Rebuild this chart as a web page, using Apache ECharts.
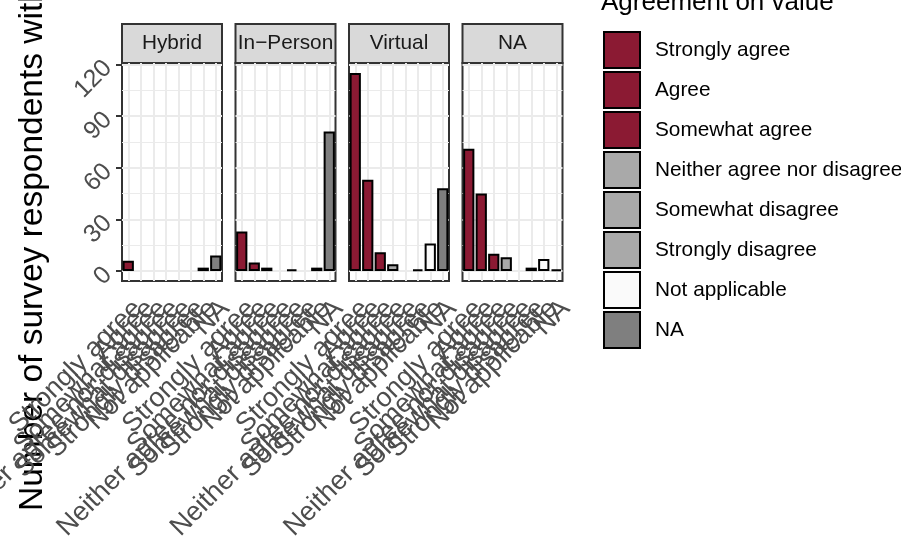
<!DOCTYPE html>
<html><head><meta charset="utf-8">
<script src="https://cdn.jsdelivr.net/npm/echarts@6/dist/echarts.min.js"></script>
<style>html,body{margin:0;padding:0;background:#fff}#c{width:901px;height:539px}</style>
</head><body><div id="c"></div>
<script>
// ---- data ----
const panels = ['Hybrid', 'In\u2212Person', 'Virtual', 'NA'];
const levels = ['Strongly agree', 'Agree', 'Somewhat agree', 'Neither agree nor disagree',
  'Somewhat disagree', 'Strongly disagree', 'Not applicable', 'NA'];
const hybrid   = [6, 0, 0, 0, 0, 0, 2, 9];
const inPerson = [23, 5, 2, 0, 1, 0, 2, 81];
const virtual  = [115, 53, 11, 4, 0, 1, 16, 48];
const naGroup  = [71, 45, 10, 8, 0, 2, 7, 1];
const yTicks = [0, 30, 60, 90, 120];
const yMinor = [15, 45, 75, 105];
const levelColors = ['#8b1a33', '#8b1a33', '#8b1a33', '#a9a9a9', '#a9a9a9', '#a9a9a9', '#fafafa', '#7f7f7f'];
const yTitle = 'Number of survey respondents with';
const legendTitle = 'Agreement on value';

const panelValues = [hybrid, inPerson, virtual, naGroup];
const FONT = '"Liberation Sans", Arial, sans-serif';
const L = [122, 235.5, 349, 462.5], W = 100, TOP = 63, H = 218, STRIP_TOP = 24;
const yMin = -5.75, yMax = 120.75;

const chart = echarts.init(document.getElementById('c'), null, {renderer: 'canvas'});
const grids = [], xAxes = [], yAxes = [], series = [], graphics = [];
panels.forEach((p, i) => {
  grids.push({left: L[i], top: TOP, width: W, height: H, show: true, borderColor: '#333333', borderWidth: 2,
    backgroundColor: 'transparent', containLabel: false, outerBoundsMode: 'none'});
  xAxes.push({type: 'category', gridIndex: i, data: levels, boundaryGap: true,
    axisLine: {show: false},
    axisTick: {show: true, alignWithLabel: true, length: 6, lineStyle: {color: '#333333', width: 2}},
    axisLabel: {show: true, interval: 0, rotate: 45, fontSize: 27, color: '#4d4d4d', fontFamily: FONT, margin: 14,
      align: 'right', verticalAlign: 'top', hideOverlap: false},
    splitLine: {show: false}});
  yAxes.push({type: 'value', gridIndex: i, min: yMin, max: yMax,
    axisLine: {show: false},
    axisTick: {show: i === 0, length: 6, customValues: yTicks, lineStyle: {color: '#333333', width: 2}},
    axisLabel: {show: i === 0, customValues: yTicks, rotate: 45, fontSize: 25, color: '#4d4d4d', fontFamily: FONT, margin: 14},
    splitLine: {show: false}});
  series.push({type: 'line', name: '_grid' + i, xAxisIndex: i, yAxisIndex: i, data: [], silent: true,
    markLine: {silent: true, symbol: ['none', 'none'], label: {show: false}, animation: false, z: 1,
      lineStyle: {color: '#ebebeb', type: 'solid'},
      data: [
        ...yMinor.map(v => ({yAxis: v, lineStyle: {width: 1, color: '#ebebeb', type: 'solid'}})),
        ...yTicks.map(v => ({yAxis: v, lineStyle: {width: 2, color: '#ebebeb', type: 'solid'}})),
        ...levels.map(c => ({xAxis: c, lineStyle: {width: 2, color: '#ebebeb', type: 'solid'}}))
      ]}});
  levels.forEach((lv, k) => {
    const data = levels.map((_, j) => (j === k && panelValues[i][j] > 0) ? panelValues[i][j] : '-');
    series.push({type: 'bar', name: lv, xAxisIndex: i, yAxisIndex: i, stack: 's' + i, barWidth: '90%', data,
      itemStyle: {color: levelColors[k], borderColor: '#000000', borderWidth: 2},
      emphasis: {disabled: true}, z: 3});
  });
  graphics.push({type: 'rect', shape: {x: L[i], y: STRIP_TOP, width: W, height: TOP - STRIP_TOP},
    style: {fill: '#d9d9d9', stroke: '#333333', lineWidth: 2}});
  graphics.push({type: 'text', x: L[i] + W / 2, y: (STRIP_TOP + TOP) / 2,
    style: {text: p, fill: '#1a1a1a', font: '20.8px ' + FONT, align: 'center', verticalAlign: 'middle', textAlign: 'center', textVerticalAlign: 'middle'}});
});
graphics.push({type: 'text', x: 33, y: 511, rotation: Math.PI / 2,
  style: {text: yTitle, fill: '#000000', font: '33.5px ' + FONT, align: 'left', verticalAlign: 'middle', textAlign: 'left', textVerticalAlign: 'middle'}});
graphics.push({type: 'text', x: 601, y: 3,
  style: {text: legendTitle, fill: '#000000', font: '26px ' + FONT, align: 'left', verticalAlign: 'middle', textAlign: 'left', textVerticalAlign: 'middle'}});

chart.setOption({
  animation: false,
  grid: grids, xAxis: xAxes, yAxis: yAxes, series,
  legend: {orient: 'vertical', left: 603, top: 31, padding: 0, itemWidth: 36, itemHeight: 36, itemGap: 2,
    icon: 'rect', data: levels, itemStyle: {borderColor: '#000000', borderWidth: 2},
    textStyle: {fontSize: 20.8, color: '#000000', fontFamily: FONT, padding: [0, 0, 0, 10]}},
  graphic: graphics
});
</script></body></html>
